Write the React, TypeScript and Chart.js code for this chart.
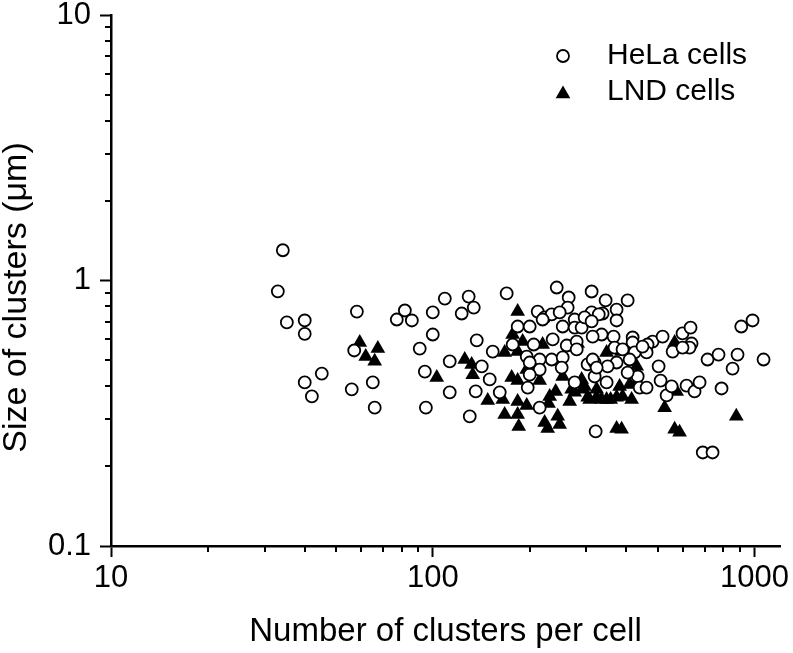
import React, { useEffect, useRef } from 'react';
import { Chart, registerables } from 'chart.js';

Chart.register(...registerables);

// ---------- data ----------
const helaX = [
  34.2, 33.0, 35.2, 40.0, 40.0, 58.1, 57.0, 40.0, 45.2, 42.1, 56.0, 65.1, 66.0,
  77.3, 81.9, 86.1, 100, 109, 123, 129.3, 134.1, 169.7, 242.8, 264.5, 311.7, 344.5,
  403.3, 372.7, 372.7, 262.6, 211.9, 222.7, 234.2, 248, 276.1, 219.5, 183.6, 200.1,
  253.4, 276.1, 137, 235.9, 205.9, 260.8, 153.6, 177.1, 195.9, 234.2, 253.4, 280.1,
  280.1, 142, 214.9, 311.7, 337.2, 290.2, 334.8, 314, 364.8, 418, 418, 482.2, 465.2,
  518, 461.9, 424.1, 367.4, 597.4, 632.7, 637.2, 628.2, 556.5, 714.5, 773, 885.6,
  854.6, 909.5, 985.9, 1066.7, 503.4, 510.6, 533.1, 552.5, 614.8, 651, 674.8, 789.8,
  433.3, 403.3, 439.6, 461.9, 347, 302.9, 318.5, 372.7, 349.5, 318.5, 320.8, 690.5,
  740.6, 100, 91.1, 112.9, 94.5, 112.9, 95.2, 130.3, 136, 150.3, 161.5, 389, 409.1,
  448.7, 214.9, 214.9, 197.3, 200.1, 251.6, 276.1, 200.1, 314, 323.1, 597.4, 296.5,
  328, 311.7,
];
const helaY = [
  1.30, 0.91, 0.695, 0.707, 0.63, 0.764, 0.545, 0.413, 0.446, 0.366, 0.389, 0.413, 0.332,
  0.713, 0.771, 0.707, 0.758, 0.855, 0.751, 0.870, 0.791, 0.894, 0.941, 0.863, 0.909, 0.841,
  0.841, 0.777, 0.707, 0.791, 0.764, 0.726, 0.745, 0.758, 0.713, 0.713, 0.671, 0.671,
  0.671, 0.665, 0.595, 0.600, 0.574, 0.569, 0.540, 0.574, 0.517, 0.504, 0.513, 0.589,
  0.550, 0.475, 0.504, 0.758, 0.751, 0.665, 0.626, 0.615, 0.615, 0.610, 0.584, 0.589, 0.574,
  0.615, 0.536, 0.536, 0.559, 0.632, 0.665, 0.579, 0.559, 0.540, 0.504, 0.526, 0.526,
  0.466, 0.671, 0.707, 0.504, 0.475, 0.420, 0.369, 0.399, 0.402, 0.382, 0.413, 0.392,
  0.435, 0.450, 0.395, 0.395, 0.413, 0.483, 0.491, 0.491, 0.475, 0.435, 0.270, 0.225,
  0.225, 0.626, 0.554, 0.496, 0.454, 0.379, 0.332, 0.308, 0.382, 0.424, 0.379, 0.550, 0.504,
  0.564, 0.462, 0.332, 0.395, 0.442, 0.470, 0.413, 0.491, 0.504, 0.470, 0.559, 0.726,
  0.745, 0.701,
];
const lndX = [
  59.3, 67.5, 61.9, 66.0, 102.9, 125.7, 132.1, 133.1, 183.6, 177.1, 190.3, 219.5, 167.3,
  183.6, 282.1, 347, 386.3, 564.6, 195.9, 175.9, 183.6, 214.9, 253.4, 430.2, 430.2, 409.1,
  380.8, 270.2, 292.3, 323.1, 148.2, 165, 183.6, 195.9, 167.3, 183.6, 185, 230.9, 241, 229,
  222.7, 227.6, 244.5, 248, 266.4, 307.3, 323.1, 347, 372.7, 389, 415, 525.5, 572.7, 372.7,
  386.3, 564.6, 584.9, 877.7, 296.5, 276.1, 334.8, 357.1, 302.9, 290.2,
];
const lndY = [
  0.584, 0.554, 0.517, 0.496, 0.431, 0.504, 0.483, 0.442, 0.764, 0.626, 0.589, 0.574, 0.536,
  0.540, 0.579, 0.536, 0.540, 0.584, 0.462, 0.431, 0.420, 0.420, 0.435, 0.475, 0.413, 0.406,
  0.399, 0.389, 0.389, 0.389, 0.353, 0.356, 0.350, 0.338, 0.313, 0.313, 0.282, 0.366, 0.382, 0.344,
  0.292, 0.277, 0.308, 0.287, 0.350, 0.356, 0.363, 0.356, 0.363, 0.366, 0.356, 0.332, 0.382, 0.277,
  0.275, 0.275, 0.268, 0.308, 0.399, 0.379, 0.356, 0.356, 0.363, 0.424,
];

const seriesLabels = ['HeLa cells', 'LND cells'];
const xAxisTitle = 'Number of clusters per cell';
const yAxisTitle = 'Size of clusters (\u03bcm)';

const xTickValues = [10, 20, 30, 40, 50, 60, 70, 80, 90, 100, 200, 300, 400, 500, 600, 700, 800, 900, 1000];
const xMajorTicks = [10, 100, 1000];
const xMajorLabels = ['10', '100', '1000'];
const yTickValues = [0.1, 0.2, 0.3, 0.4, 0.5, 0.6, 0.7, 0.8, 0.9, 1, 2, 3, 4, 5, 6, 7, 8, 9, 10];
const yMajorTicks = [0.1, 1, 10];
const yMajorLabels = ['0.1', '1', '10'];
const xRange = [10, 1200];
const yRange = [0.1, 10];

// ---------- styles ----------
const FONT = "'Liberation Sans', Arial, Helvetica, sans-serif";
const W = 793;
const H = 653;
const Y_TITLE_SHIFT = 17; // the reference y title sits a little below the axis centre

function pts(xs: number[], ys: number[]) {
  return xs.map((x, i) => ({ x, y: ys[i] }));
}

function drawMarker(ctx: CanvasRenderingContext2D, style: string, x: number, y: number, r: number) {
  ctx.beginPath();
  if (style === 'circle') {
    ctx.arc(x, y, r, 0, Math.PI * 2);
  } else {
    const third = (Math.PI * 2) / 3;
    let a = 0;
    ctx.moveTo(x + Math.sin(a) * r, y - Math.cos(a) * r);
    a += third;
    ctx.lineTo(x + Math.sin(a) * r, y - Math.cos(a) * r);
    a += third;
    ctx.lineTo(x + Math.sin(a) * r, y - Math.cos(a) * r);
  }
  ctx.closePath();
}

const axisExtrasPlugin = {
  id: 'axisExtras',
  afterLayout(chart: any) {
    const ys = chart.scales.y;
    if (ys && !ys.__titleShifted) {
      const orig = ys.drawTitle;
      ys.drawTitle = function (this: any, ...args: any[]) {
        this.top += Y_TITLE_SHIFT;
        this.bottom += Y_TITLE_SHIFT;
        try {
          orig.apply(this, args);
        } finally {
          this.top -= Y_TITLE_SHIFT;
          this.bottom -= Y_TITLE_SHIFT;
        }
      };
      ys.__titleShifted = true;
    }
  },
  afterDraw(chart: any) {
    const ctx = chart.ctx as CanvasRenderingContext2D;
    const xs = chart.scales.x;
    const ys = chart.scales.y;
    const area = chart.chartArea;
    ctx.save();
    ctx.strokeStyle = '#000';
    ctx.lineWidth = 2;
    xs.ticks.forEach((t: any) => {
      if (t.major) return;
      const px = Math.round(xs.getPixelForValue(t.value));
      ctx.beginPath();
      ctx.moveTo(px, area.bottom);
      ctx.lineTo(px, area.bottom + 6);
      ctx.stroke();
    });
    ys.ticks.forEach((t: any) => {
      if (t.major) return;
      const py = Math.round(ys.getPixelForValue(t.value));
      ctx.beginPath();
      ctx.moveTo(area.left, py);
      ctx.lineTo(area.left - 6, py);
      ctx.stroke();
    });
    ctx.restore();
  },
};

const legendPlugin = {
  id: 'customLegend',
  afterDraw(chart: any) {
    const ctx = chart.ctx as CanvasRenderingContext2D;
    const markerX = 563;
    const textX = 607;
    const rows = [56, 92];
    ctx.save();
    chart.data.datasets.forEach((ds: any, i: number) => {
      const y = rows[i];
      const my = ds.pointStyle === 'triangle' ? y + 2 : y;
      drawMarker(ctx, ds.pointStyle, markerX, my, ds.pointRadius);
      ctx.fillStyle = ds.pointBackgroundColor;
      ctx.fill();
      if (ds.pointBorderWidth > 0) {
        ctx.lineWidth = ds.pointBorderWidth;
        ctx.strokeStyle = ds.pointBorderColor;
        ctx.stroke();
      }
      ctx.fillStyle = '#000';
      ctx.font = `30px ${FONT}`;
      ctx.textAlign = 'left';
      ctx.textBaseline = 'middle';
      ctx.fillText(ds.label, textX, y);
    });
    ctx.restore();
  },
};

function pinScale(size: number, horizontal: boolean) {
  return (scale: any) => {
    if (horizontal) scale.height = size;
    else scale.width = size;
    scale.paddingTop = 0;
    scale.paddingBottom = 0;
    scale.paddingLeft = 0;
    scale.paddingRight = 0;
  };
}

function setTicks(values: number[], majors: number[]) {
  return (scale: any) => {
    scale.ticks = values.map((v) => ({ value: v, major: majors.includes(v) }));
  };
}

function labelFor(majors: number[], labels: string[]) {
  return (value: any) => {
    const idx = majors.indexOf(Number(value));
    return idx >= 0 ? labels[idx] : '';
  };
}

export default function App() {
  const canvasRef = useRef<HTMLCanvasElement | null>(null);

  useEffect(() => {
    const canvas = canvasRef.current;
    if (!canvas) return;
    const chart = new Chart(canvas, {
      type: 'scatter',
      data: {
        datasets: [
          {
            label: seriesLabels[0],
            data: pts(helaX, helaY),
            pointStyle: 'circle',
            pointRadius: 6,
            pointHoverRadius: 6,
            pointBackgroundColor: '#ffffff',
            pointBorderColor: '#000000',
            pointBorderWidth: 1.8,
            backgroundColor: '#ffffff',
            borderColor: '#000000',
          } as any,
          {
            label: seriesLabels[1],
            data: pts(lndX, lndY),
            pointStyle: 'triangle',
            pointRadius: 8.5,
            pointHoverRadius: 8.5,
            pointBackgroundColor: '#000000',
            pointBorderColor: '#000000',
            pointBorderWidth: 0,
            backgroundColor: '#000000',
            borderColor: '#000000',
          } as any,
        ],
      },
      options: {
        responsive: false,
        animation: false,
        devicePixelRatio: 1,
        layout: { padding: { left: 0, top: 15, right: 13, bottom: 0 } },
        plugins: {
          legend: { display: false },
          tooltip: { enabled: false },
          title: { display: false },
        },
        scales: {
          x: {
            type: 'logarithmic',
            position: 'bottom',
            min: xRange[0],
            max: xRange[1],
            afterBuildTicks: setTicks(xTickValues, xMajorTicks),
            afterFit: pinScale(107, true),
            border: { display: true, color: '#000', width: 2.5 },
            grid: {
              display: true,
              drawOnChartArea: false,
              drawTicks: true,
              tickLength: 11,
              tickWidth: 2,
              tickColor: (c: any) => (c.tick && c.tick.major ? '#000' : 'rgba(0,0,0,0)'),
            },
            ticks: {
              autoSkip: false,
              maxRotation: 0,
              minRotation: 0,
              padding: 3,
              color: '#000',
              font: { family: FONT, size: 31 },
              callback: labelFor(xMajorTicks, xMajorLabels),
            },
            title: {
              display: true,
              text: xAxisTitle,
              color: '#000',
              font: { family: FONT, size: 33 },
              padding: { top: 0, bottom: 1 },
            },
          },
          y: {
            type: 'logarithmic',
            position: 'left',
            min: yRange[0],
            max: yRange[1],
            afterBuildTicks: setTicks(yTickValues, yMajorTicks),
            afterFit: pinScale(111, false),
            border: { display: true, color: '#000', width: 2.5 },
            grid: {
              display: true,
              drawOnChartArea: false,
              drawTicks: true,
              tickLength: 11,
              tickWidth: 2,
              tickColor: (c: any) => (c.tick && c.tick.major ? '#000' : 'rgba(0,0,0,0)'),
            },
            ticks: {
              autoSkip: false,
              padding: 9,
              color: '#000',
              font: { family: FONT, size: 31 },
              callback: labelFor(yMajorTicks, yMajorLabels),
            },
            title: {
              display: true,
              text: yAxisTitle,
              color: '#000',
              font: { family: FONT, size: 34, lineHeight: 1 },
              padding: { top: 0, bottom: 0 },
            },
          },
        },
      } as any,
      plugins: [axisExtrasPlugin, legendPlugin],
    });
    return () => chart.destroy();
  }, []);

  return (
    <div style={{ position: 'fixed', left: 0, top: 0, width: W, height: H, background: '#fff' }}>
      <canvas ref={canvasRef} width={W} height={H} style={{ display: 'block', width: W, height: H }} />
    </div>
  );
}
